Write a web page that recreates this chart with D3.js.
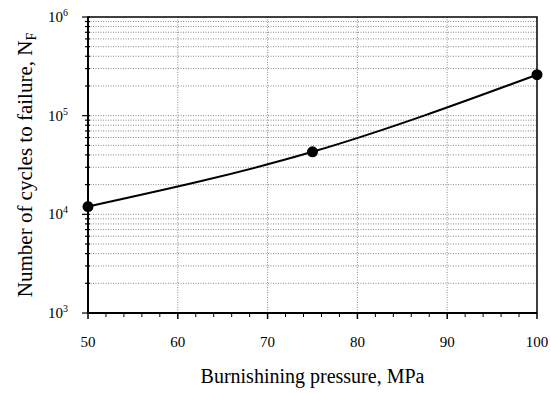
<!DOCTYPE html>
<html>
<head>
<meta charset="utf-8">
<script src="https://cdn.jsdelivr.net/npm/d3@7"></script>
<style>
  body { margin: 0; background: #fff; }
  svg { display: block; font-family: "Liberation Serif", "Times New Roman", serif; }
  .grid line { stroke: #888; stroke-width: 1; stroke-dasharray: 1,1.5; }
</style>
</head>
<body>
<div id="container"></div>
<script>

// data
var pressure = [50, 75, 100];
var cycles = [12000, 43000, 260000];
var xTicks = [50, 60, 70, 80, 90, 100];
var yTicks = [1e3, 1e4, 1e5, 1e6];
var yExp = ["3", "4", "5", "6"];

var width = 551, height = 393;
var margin = {top: 17, right: 14, bottom: 80, left: 88};

var svg = d3.select("#container").append("svg")
    .attr("width", width)
    .attr("height", height);

var x = d3.scaleLinear()
    .domain([50, 100])
    .range([margin.left, width - margin.right]);

var y = d3.scaleLog()
    .domain([1e3, 1e6])
    .range([height - margin.bottom, margin.top]);

// minor log values 2..9 of each decade
var yMinor = [];
[1e3, 1e4, 1e5].forEach(function(d){
    for (var k = 2; k <= 9; k++) yMinor.push(d * k);
});
var xMinor = d3.range(50, 101, 2);

var grid = svg.append("g").attr("class", "grid");

grid.selectAll("line.h")
    .data(yMinor.concat([1e4, 1e5]))
    .enter().append("line")
    .attr("class", "h")
    .attr("x1", x(50)).attr("x2", x(100))
    .attr("y1", function(d){ return y(d); })
    .attr("y2", function(d){ return y(d); });

grid.selectAll("line.v")
    .data([60, 70, 80, 90])
    .enter().append("line")
    .attr("class", "v")
    .attr("y1", y(1e3)).attr("y2", y(1e6))
    .attr("x1", function(d){ return x(d); })
    .attr("x2", function(d){ return x(d); });

// frame
svg.append("rect")
    .attr("x", x(50)).attr("y", y(1e6))
    .attr("width", x(100) - x(50))
    .attr("height", y(1e3) - y(1e6))
    .attr("fill", "none")
    .attr("stroke", "#000")
    .attr("stroke-width", 1.5);

// bottom axis, minor ticks every 2
var xAxis = svg.append("g")
    .attr("transform", "translate(0," + y(1e3) + ")");
xAxis.append("line")
    .attr("x1", x(50)).attr("x2", x(100))
    .attr("stroke", "#000").attr("stroke-width", 2);
xAxis.selectAll("line.t")
    .data(xMinor)
    .enter().append("line")
    .attr("class", "t")
    .attr("x1", function(d){ return x(d); })
    .attr("x2", function(d){ return x(d); })
    .attr("y1", 0)
    .attr("y2", function(d){ return d % 10 == 0 ? 6 : 4; })
    .attr("stroke", "#000")
    .attr("stroke-width", function(d){ return d % 10 == 0 ? 1.5 : 1; });
xAxis.selectAll("text")
    .data(xTicks)
    .enter().append("text")
    .attr("x", function(d){ return x(d); })
    .attr("y", 34)
    .attr("text-anchor", "middle")
    .style("font-size", "15px")
    .text(function(d){ return d; });

// left axis
var yAxis = svg.append("g")
    .attr("transform", "translate(" + x(50) + ",0)");
yAxis.append("line")
    .attr("y1", y(1e3)).attr("y2", y(1e6))
    .attr("stroke", "#000").attr("stroke-width", 2);
yAxis.selectAll("line.t")
    .data(yMinor.concat(yTicks))
    .enter().append("line")
    .attr("class", "t")
    .attr("y1", function(d){ return y(d); })
    .attr("y2", function(d){ return y(d); })
    .attr("x1", function(d){ return yTicks.indexOf(d) >= 0 ? -6 : -3; })
    .attr("x2", 2)
    .attr("stroke", "#000")
    .attr("stroke-width", 1.2);
var yl = yAxis.selectAll("text")
    .data(yTicks)
    .enter().append("text")
    .attr("x", -20)
    .attr("y", function(d){ return y(d) + 5; })
    .attr("text-anchor", "end")
    .style("font-size", "15px");
yl.append("tspan").text("10");
yl.append("tspan")
    .attr("dy", -6)
    .style("font-size", "10px")
    .text(function(d, i){ return yExp[i]; });

// curve and points
var pts = pressure.map(function(p, i){ return [p, cycles[i]]; });

svg.append("path")
    .datum(pts)
    .attr("fill", "none")
    .attr("stroke", "#000")
    .attr("stroke-width", 2)
    .attr("d", d3.line()
	  .x(function(d){ return x(d[0]); })
	  .y(function(d){ return y(d[1]); })
	  .curve(d3.curveNatural));

svg.selectAll("circle")
    .data(pts)
    .enter().append("circle")
    .attr("cx", function(d){ return x(d[0]); })
    .attr("cy", function(d){ return y(d[1]); })
    .attr("r", 5.5)
    .attr("fill", "#000");

// titles
svg.append("text")
    .attr("x", (x(50) + x(100)) / 2)
    .attr("y", 383)
    .attr("text-anchor", "middle")
    .style("font-size", "20px")
    .text("Burnishining pressure, MPa");

var yt = svg.append("text")
    .attr("transform", "translate(32," + (y(1e3) + y(1e6)) / 2 + ") rotate(-90)")
    .attr("text-anchor", "middle")
    .style("font-size", "21px");
yt.append("tspan").text("Number of cycles to failure, N");
yt.append("tspan")
    .attr("dy", 4)
    .style("font-size", "14px")
    .text("F");

</script>
</body>
</html>
